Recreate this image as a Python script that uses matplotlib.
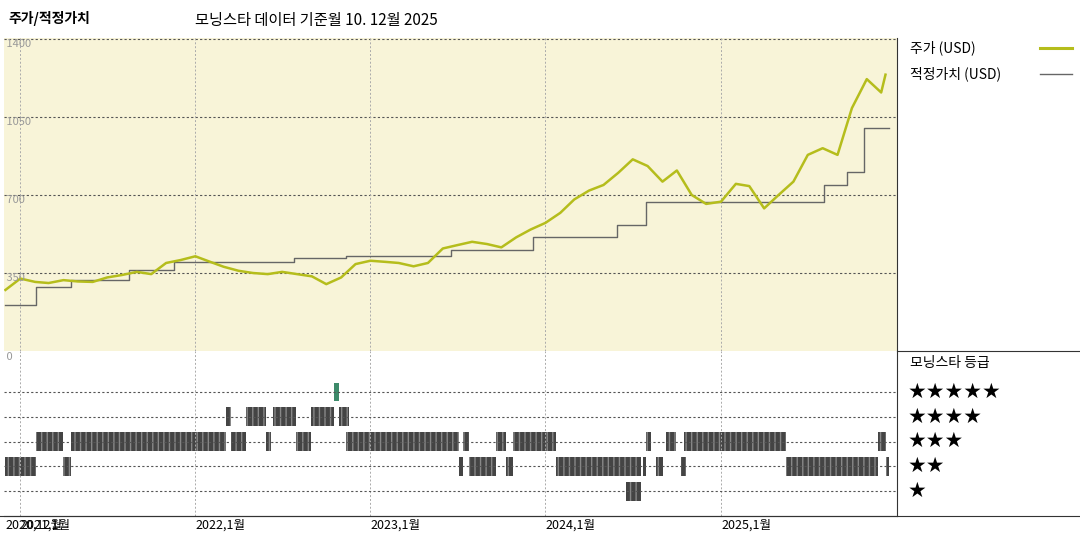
import matplotlib
matplotlib.use("Agg")
import matplotlib.pyplot as plt
import pandas as pd

plt.rcParams['font.family'] = ['Noto Sans CJK KR', 'DejaVu Sans']

# monthly closing price (USD), Dec 2020 .. Dec 2025
price_dates = pd.date_range("2020-12-01", periods=61, freq="MS")
price_values = [274, 325, 310, 305, 318, 312, 310, 330, 341, 355, 345, 395, 408,
                425, 400, 378, 360, 350, 345, 355, 345, 335, 300, 330, 390,
                405, 400, 395, 380, 395, 460, 475, 490, 480, 465, 510, 545,
                575, 620, 680, 720, 745, 800, 860, 830, 760, 810, 700, 660,
                670, 750, 740, 640, 700, 760, 880, 910, 880, 1090, 1220, 1160]
price_dates = list(price_dates) + [pd.Timestamp("2025-12-10")]
price_values = price_values + [1240]

fair_dates = pd.to_datetime(["2020-12-01", "2021-02-03", "2021-04-17", "2021-08-15",
                             "2021-11-17", "2022-07-25", "2022-11-11", "2023-06-18",
                             "2023-12-07", "2024-05-29", "2024-07-29", "2025-08-03",
                             "2025-09-20", "2025-10-26", "2025-12-18"])
fair_values = [206, 287, 318, 363, 399, 417, 426, 453, 511, 565, 668, 745, 803, 1000, 1000]

# star rating periods: (start, end, stars)
rating_periods = [
    ("2020-12-01", "2021-02-03", 2), ("2021-02-03", "2021-04-01", 3),
    ("2021-04-01", "2021-04-17", 2), ("2021-04-17", "2022-03-06", 3),
    ("2022-03-06", "2022-03-16", 4), ("2022-03-16", "2022-04-16", 3),
    ("2022-04-16", "2022-05-28", 4), ("2022-05-28", "2022-06-08", 3),
    ("2022-06-12", "2022-07-30", 4), ("2022-07-30", "2022-08-30", 3),
    ("2022-08-30", "2022-10-17", 4), ("2022-10-17", "2022-10-27", 5),
    ("2022-10-27", "2022-11-17", 4), ("2022-11-11", "2023-07-05", 3),
    ("2023-07-05", "2023-07-13", 2), ("2023-07-13", "2023-07-26", 3),
    ("2023-07-26", "2023-09-20", 2), ("2023-09-20", "2023-10-11", 3),
    ("2023-10-11", "2023-10-25", 2), ("2023-10-25", "2024-01-23", 3),
    ("2024-01-23", "2024-07-18", 2), ("2024-06-17", "2024-07-18", 1),
    ("2024-07-23", "2024-07-29", 2), ("2024-07-29", "2024-08-08", 3),
    ("2024-08-19", "2024-09-02", 2), ("2024-09-09", "2024-09-29", 3),
    ("2024-10-10", "2024-10-20", 2), ("2024-10-16", "2025-05-17", 3),
    ("2025-05-17", "2025-11-25", 2), ("2025-11-25", "2025-12-11", 3),
    ("2025-12-11", "2025-12-18", 2),
]

price_ticks = [350, 700, 1050, 1400]
year_ticks = ["2022-01-01", "2023-01-01", "2024-01-01", "2025-01-01"]
year_labels = ["2022,1월", "2023,1월", "2024,1월", "2025,1월"]

xmin, xmax = pd.Timestamp("2020-11-28"), pd.Timestamp("2026-01-03")
W, H = 1080, 540
fig = plt.figure(figsize=(10.8, 5.4), dpi=100)

ax = fig.add_axes([4 / W, (H - 351) / H, 893 / W, 313 / H])
ax.set_facecolor("#f8f4d8")
ax.set_xlim(xmin, xmax)
ax.set_ylim(0, 1400 * 313 / 312)
for v in price_ticks:
    ax.axhline(v, color="#555", lw=0.8, ls=(0, (2, 2)))
    ax.text(xmin, v, " " + str(v), va="top", ha="left", fontsize=8, color="#999")
for d in ["2021-01-01"] + year_ticks:
    ax.axvline(pd.Timestamp(d), color="#aaa", lw=0.7, ls=(0, (2, 2)))
ax.step(fair_dates, fair_values, where="post", color="#666", lw=1.0)
ax.plot(price_dates, price_values, color="#b5bd1c", lw=1.8)
ax.set_xticks([]); ax.set_yticks([])
for s in ax.spines.values():
    s.set_visible(False)

TOP = 6.65
bx = fig.add_axes([4 / W, 24 / H, 893 / W, 165 / H])
bx.set_xlim(xmin, xmax)
bx.set_ylim(TOP, 0)
bx.text(xmin, 0.05, " 0", va="top", ha="left", fontsize=8, color="#999")
for stars in range(1, 6):
    bx.axhline(TOP - stars, color="#555", lw=0.8, ls=(0, (2, 2)), zorder=3)
for d in ["2021-01-01"] + year_ticks:
    bx.axvline(pd.Timestamp(d), color="#aaa", lw=0.7, ls=(0, (2, 2)))
for start, end, stars in rating_periods:
    s, e = pd.Timestamp(start), pd.Timestamp(end)
    row = TOP - stars
    color = "#3d8a6a" if stars == 5 else "#444"
    bx.axvspan(s, e, ymin=1 - (row + 0.38) / TOP, ymax=1 - (row - 0.38) / TOP,
               color=color, lw=0, hatch="|||", ec="#888" if stars != 5 else color)
bx.set_yticks([])
bx.set_xticks(pd.to_datetime(["2020-12-01", "2021-01-01"] + year_ticks))
bx.set_xticklabels(["2020,12월", "2021,1월"] + year_labels, ha="left", fontsize=9)
bx.tick_params(axis="x", length=0, pad=2)
for k in ["top", "right", "left"]:
    bx.spines[k].set_visible(False)
bx.spines["bottom"].set_color("#333")

# frame lines and right-hand panel
fig.add_artist(plt.Line2D([897 / W, 897 / W], [24 / H, (H - 38) / H], color="#333", lw=0.8))
fig.add_artist(plt.Line2D([897 / W, 1], [(H - 351) / H] * 2, color="#333", lw=0.8))
fig.add_artist(plt.Line2D([0, 1], [24 / H] * 2, color="#333", lw=0.8))

fig.text(8 / W, 1 - 18 / H, "주가/적정가치", fontsize=10, fontweight="bold", va="center")
fig.text(195 / W, 1 - 20 / H, "모닝스타 데이터 기준월 10. 12월 2025", fontsize=11, va="center")

fig.text(910 / W, 1 - 48 / H, "주가 (USD)", fontsize=10, va="center")
fig.add_artist(plt.Line2D([1040 / W, 1072 / W], [1 - 48 / H] * 2, color="#b5bd1c", lw=2.2))
fig.text(910 / W, 1 - 74 / H, "적정가치 (USD)", fontsize=10, va="center")
fig.add_artist(plt.Line2D([1040 / W, 1072 / W], [1 - 74 / H] * 2, color="#666", lw=1))

fig.text(910 / W, 1 - 363 / H, "모닝스타 등급", fontsize=10, va="center")
for i, n in enumerate([5, 4, 3, 2, 1]):
    fig.text(908 / W, 1 - (392 + i * 24.7) / H, "★" * n, fontsize=15, va="center",
             family="DejaVu Sans")

fig.savefig("out.png", dpi=100)
